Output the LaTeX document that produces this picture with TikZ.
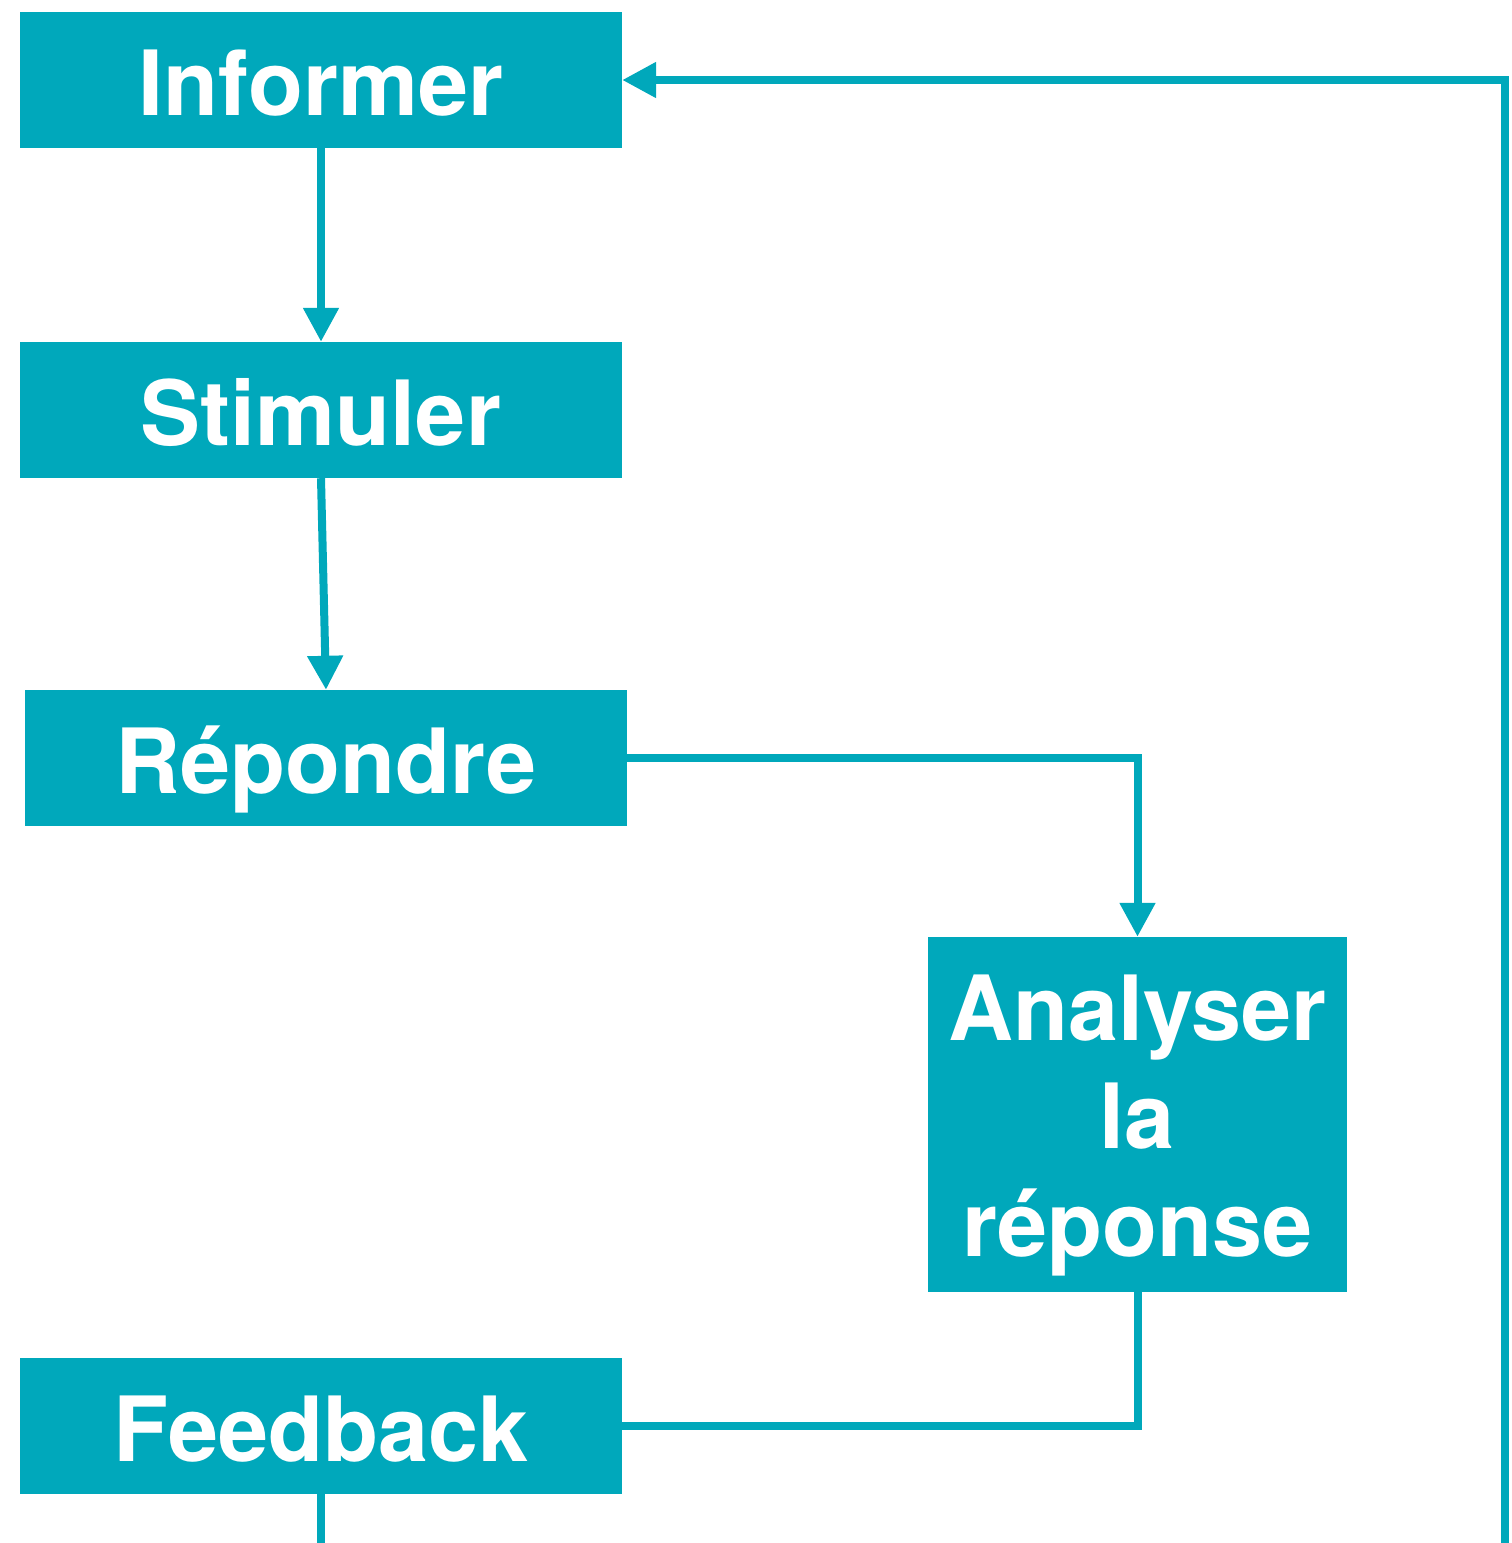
\documentclass[tikz,border=0pt]{standalone}
\usepackage{fontspec}
\setmainfont{TeX Gyre Heros}
\usetikzlibrary{arrows.meta}
\definecolor{cyanbox}{RGB}{0,168,187}
\tikzset{
  link/.style={draw=cyanbox, line width=8pt},
  arr/.style={link, -{Triangle[width=34pt,length=34pt]}}
}
\begin{document}
\begin{tikzpicture}[x=1pt,y=-1pt,every node/.style={fill=cyanbox, text=white, inner sep=0pt, minimum width=602pt, minimum height=136pt, text height=80pt, text depth=10pt, font=\fontsize{90}{108}\selectfont\bfseries}]
\useasboundingbox (0,0) rectangle (1512,1543);
\node (inf) at (321, 80) {Informer};
\node (stim) at (321, 410) {Stimuler};
\node (rep) at (326, 758) {Répondre};
\node[minimum width=419pt, minimum height=355pt, text width=419pt, text height=70pt, text depth=219pt, align=center] (ana) at (1137.5, 1114.5) {Analyser\\la\\réponse};
\node (fb) at (321, 1426) {Feedback};
\coordinate (fbout) at (321, 1543);
\coordinate (loopin) at (1505, 1543);
\draw[arr] (inf) -- (stim);
\draw[arr] (stim.south) -- (rep.north);
\draw[arr] (rep.east) -| (ana.north);
\draw[link] (ana.south) |- (fb.east);
\draw[link] (fb.south) -- (fbout);
\draw[arr] (loopin) |- (inf.east);
\end{tikzpicture}
\end{document}
